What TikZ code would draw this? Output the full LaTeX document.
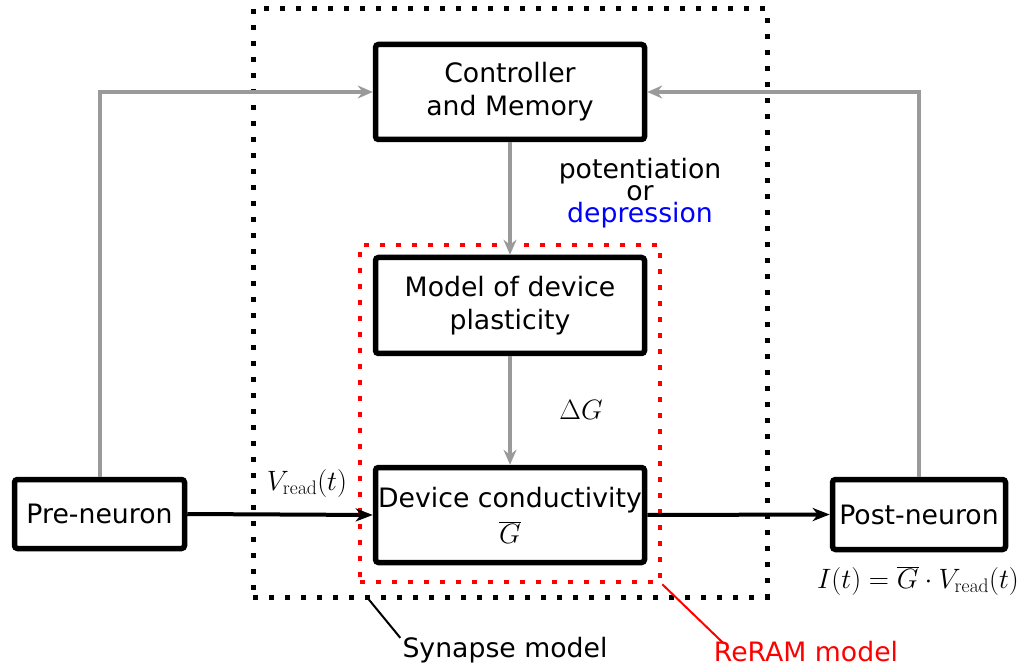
\RequirePackage{fix-cm}
\documentclass[tikz,border=0pt]{standalone}
\usepackage[no-math]{fontspec}
\setmainfont{DejaVu Sans}
\usetikzlibrary{arrows.meta,calc}
\definecolor{linkgray}{HTML}{9A9A9A}
\definecolor{reramred}{HTML}{FF0000}
\definecolor{depblue}{HTML}{0000FF}
\tikzset{
  blockbox/.style={draw=black, line width=5.5pt, rounded corners=3pt, align=center,
    inner sep=0pt, font=\fontsize{26.7}{33}\selectfont},
  grayarrow/.style={draw=linkgray, line width=4pt, -{Stealth[length=15pt,width=13pt,inset=5pt]}},
  blackarrow/.style={draw=black, line width=4pt, -{Stealth[length=17pt,width=13pt,inset=5pt]}},
  groupbox/.style={line width=5pt, dash pattern=on 5pt off 11pt, inner sep=0pt},
  lbl/.style={font=\fontsize{26.7}{22}\selectfont, inner sep=0pt, align=center},
  mathlbl/.style={font=\fontsize{28}{30}\selectfont, inner sep=0pt},
  leader/.style={line width=2pt}
}
\begin{document}
\begin{tikzpicture}[x=1pt,y=-1pt]
\useasboundingbox (0,0) rectangle (1026,668);

% grouping frames
\node[groupbox, draw=black, minimum width=514pt, minimum height=588pt] (syn) at (510,303) {};
\node[groupbox, draw=reramred, line width=4.5pt, minimum width=300pt, minimum height=337pt] (reram) at (510,413.5) {};

% blocks
\node[blockbox, minimum width=269pt, minimum height=95pt] (ctrl) at (510,92) {Controller\\and Memory};
\node[blockbox, minimum width=269pt, minimum height=96pt] (model) at (510,305.5) {Model of device\\plasticity};
\node[blockbox, minimum width=269pt, minimum height=95pt, font=\fontsize{26.7}{36}\selectfont] (dev) at (510,515) {Device conductivity\\{\fontsize{28}{36}\selectfont$\overline{G}$}};
\node[blockbox, minimum width=170pt, minimum height=69pt] (pre) at (99.5,514) {Pre-neuron};
\node[blockbox, minimum width=173pt, minimum height=70pt] (post) at (919,514.5) {Post-neuron};

% feedback to the controller
\draw[grayarrow] (pre.north) |- (ctrl.west);
\draw[grayarrow] (post.north) |- (ctrl.east);

% internal signal chain
\draw[grayarrow] (ctrl.south) -- (model.north);
\draw[grayarrow] (model.south) -- (dev.north);

% read path
\draw[blackarrow] (pre.east) -- (dev.west);
\draw[blackarrow] (dev.east) -- (post.west);

% labels
\node[mathlbl] (vread) at (307,483) {$V_{\mathrm{read}}(t)$};
\node[mathlbl] (dg) at (581,410) {$\Delta G$};
\node[lbl] (pot) at (640,193) {potentiation\\or\\\textcolor{depblue}{depression}};
\node[mathlbl] (cur) at (918,581) {$I(t) = \overline{G}\cdot V_{\mathrm{read}}(t)$};

% frame captions
\node[lbl] (synlbl) at (505,650) {Synapse model};
\node[lbl, text=reramred] (reramlbl) at (806,652) {ReRAM model};
\draw[leader, black] ($(syn.south west)!0.228!(syn.south east)$) -- ([xshift=-2pt,yshift=-1pt]synlbl.north west);
\draw[leader, reramred] (reram.south east) -- ([xshift=10pt,yshift=-2pt]reramlbl.north west);
\end{tikzpicture}
\end{document}
